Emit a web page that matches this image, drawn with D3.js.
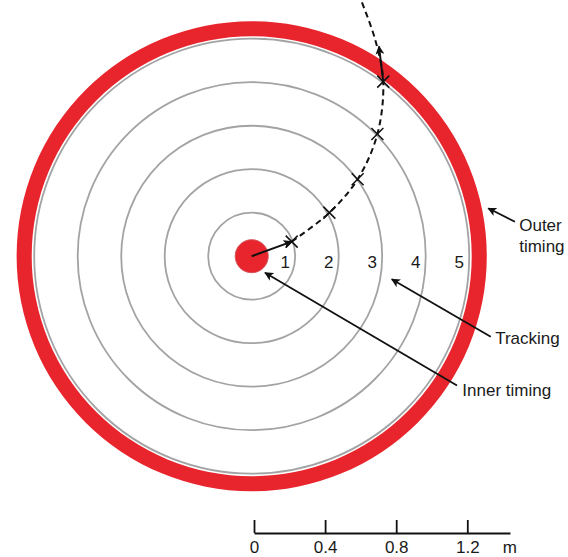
<!DOCTYPE html>
<html>
<head>
<meta charset="utf-8">
<script src="https://cdn.jsdelivr.net/npm/d3@7"></script>
<style>
  body { margin: 0; background: #fff; }
  svg { display: block; font-family: "Liberation Sans", Arial, sans-serif; }
</style>
</head>
<body>
<svg width="568" height="557"></svg>
<script>
// all distances in metres, measured from the centre of the arena
const ringRadii = [0.2447, 0.4895, 0.734, 0.979, 1.2236]
const ringLabels = ["1", "2", "3", "4", "5"]
const innerTimingRadius = 0.093
const outerTiming = [1.2377, 1.3221]

// track: points where the run crosses each ring, then beyond
const trackX = [0.225, 0.437, 0.596, 0.707, 0.740, 0.695, 0.615]
const trackY = [0.082, 0.245, 0.433, 0.687, 0.982, 1.217, 1.441]
const headingEnd = [0.716, 1.181]

const callouts = [
    {lines: ["Outer", "timing"], tip: [1.331, 0.2695], tail: [1.481, 0.194], text: [1.505, 0.175]},
    {lines: ["Tracking"], tip: [0.788, -0.130], tail: [1.345, -0.453], text: [1.370, -0.458]},
    {lines: ["Inner timing"], tip: [0.075, -0.093], tail: [1.155, -0.727], text: [1.185, -0.752]},
]

const scaleTicks = [0, 0.4, 0.8, 1.2]
const scaleTickLabels = ["0", "0.4", "0.8", "1.2"]
const scaleUnit = "m"
const scaleLength = 1.44

const pxPerMetre = 177.75
const cx = 251.7, cy = 256.2

const s = d3.scaleLinear().domain([0, 1]).range([0, pxPerMetre])
const px = m => cx + s(m)
const py = m => cy - s(m)

const svg = d3.select("svg")

const defs = svg.append("defs")
defs.append("marker")
    .attr("id", "head")
    .attr("viewBox", "0 0 10 10")
    .attr("refX", 9).attr("refY", 5)
    .attr("markerWidth", 9).attr("markerHeight", 9)
    .attr("markerUnits", "userSpaceOnUse")
    .attr("orient", "auto")
    .append("path")
    .attr("d", "M0,0 L10,5 L0,10 L2.5,5 Z")
    .attr("fill", "#111")

const g = svg.append("g").attr("transform", `translate(${cx},${cy})`)

// outer timing band
g.append("path")
    .attr("d", d3.arc()({innerRadius: s(outerTiming[0]), outerRadius: s(outerTiming[1]), startAngle: 0, endAngle: 2 * Math.PI}))
    .attr("fill", "#e8252c")

// tracking rings
g.selectAll(".ring")
    .data(ringRadii)
    .enter().append("circle")
    .attr("class", "ring")
    .attr("r", d => s(d))
    .attr("fill", "none")
    .attr("stroke", "#a3a3a3")
    .attr("stroke-width", 1.8)

// inner timing disc
g.append("circle")
    .attr("r", s(innerTimingRadius))
    .attr("fill", "#e8252c")
    .attr("stroke", "#d4545a")
    .attr("stroke-width", 1)

g.selectAll(".ring-label")
    .data(ringRadii)
    .enter().append("text")
    .attr("class", "ring-label")
    .attr("x", d => s(d) - 10)
    .attr("y", 12)
    .attr("text-anchor", "middle")
    .attr("font-size", "17px")
    .attr("fill", "#1a1a1a")
    .text((d, i) => ringLabels[i])

// the run
const trackPts = trackX.map((x, i) => [px(x), py(trackY[i])])

const line = d3.line()
    .x(d => d[0])
    .y(d => d[1])
    .curve(d3.curveCatmullRom)

svg.append("path")
    .datum(trackPts)
    .attr("d", line)
    .attr("fill", "none")
    .attr("stroke", "#111")
    .attr("stroke-width", 2)
    .style("stroke-dasharray", ("6, 4"))

// start and exit arrows
svg.append("line")
    .attr("x1", px(0)).attr("y1", py(0))
    .attr("x2", trackPts[0][0]).attr("y2", trackPts[0][1])
    .attr("stroke", "#111")
    .attr("stroke-width", 2)
    .attr("marker-end", "url(#head)")

svg.append("line")
    .attr("x1", trackPts[4][0]).attr("y1", trackPts[4][1])
    .attr("x2", px(headingEnd[0])).attr("y2", py(headingEnd[1]))
    .attr("stroke", "#111")
    .attr("stroke-width", 2)
    .attr("marker-end", "url(#head)")

// crossings
svg.selectAll(".cross")
    .data(trackPts.slice(0, 5))
    .enter().append("path")
    .attr("class", "cross")
    .attr("d", d => `M${d[0] - 6},${d[1] - 6}L${d[0] + 6},${d[1] + 6}M${d[0] - 6},${d[1] + 6}L${d[0] + 6},${d[1] - 6}`)
    .attr("stroke", "#111")
    .attr("stroke-width", 1.5)

// callouts
callouts.forEach(c => {
    svg.append("line")
        .attr("x1", px(c.tail[0])).attr("y1", py(c.tail[1]))
        .attr("x2", px(c.tip[0])).attr("y2", py(c.tip[1]))
        .attr("stroke", "#111")
        .attr("stroke-width", 1.8)
        .attr("marker-end", "url(#head)")
    const t = svg.append("text")
        .attr("x", px(c.text[0]))
        .attr("y", py(c.text[1]))
        .attr("font-size", "17px")
        .attr("fill", "#1a1a1a")
    c.lines.forEach((l, i) => {
        t.append("tspan")
            .attr("x", px(c.text[0]))
            .attr("dy", i === 0 ? "0.35em" : "1.25em")
            .text(l)
    })
})

// scale bar
const xbar = d3.scaleLinear().domain([0, scaleLength]).range([254, 254 + s(scaleLength)])
const bar = svg.append("g")
    .attr("transform", "translate(0,533)")
    .call(d3.axisBottom(xbar)
        .tickValues(scaleTicks)
        .tickFormat((d, i) => scaleTickLabels[i])
        .tickSizeInner(-13)
        .tickSizeOuter(0)
        .tickPadding(8))
bar.select(".domain").attr("stroke", "#111").attr("stroke-width", 1.8)
bar.selectAll(".tick line").attr("stroke", "#111").attr("stroke-width", 1.8)
bar.selectAll(".tick text")
    .attr("font-size", "17px")
    .attr("font-family", "Liberation Sans, Arial, sans-serif")
    .attr("fill", "#1a1a1a")
bar.append("text")
    .attr("x", xbar(scaleLength))
    .attr("y", 8)
    .attr("dy", "0.71em")
    .attr("text-anchor", "middle")
    .attr("font-size", "17px")
    .attr("fill", "#1a1a1a")
    .text(scaleUnit)
</script>
</body>
</html>
